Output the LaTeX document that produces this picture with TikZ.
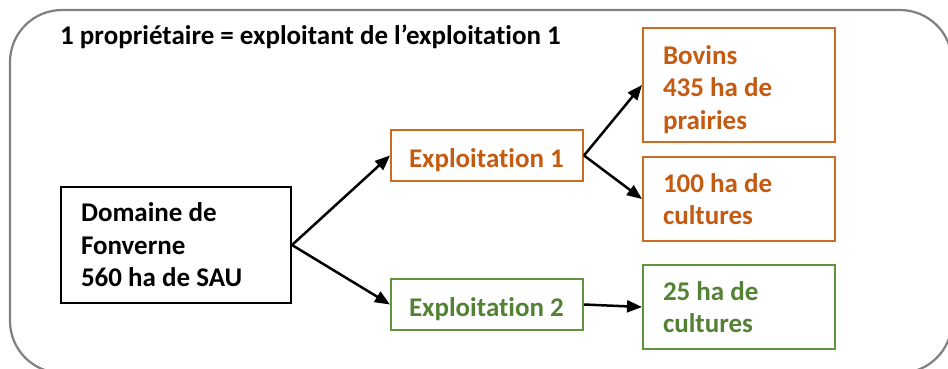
\documentclass[tikz,border=0pt]{standalone}
\usepackage{fontspec}
\setmainfont{Carlito}[Ligatures={NoCommon}]
\usetikzlibrary{arrows.meta}
\definecolor{orangeT}{HTML}{C55A11}
\definecolor{orangeB}{HTML}{CF6A24}
\definecolor{greenT}{HTML}{548235}
\definecolor{greenB}{HTML}{62933F}
\definecolor{frameC}{RGB}{128,128,128}
\newcommand{\lowerstrut}{\rule{0pt}{28pt}}
\begin{document}
\begin{tikzpicture}[x=1pt,y=-1pt,
  txt/.style={font=\fontsize{27}{32.5}\selectfont\bfseries},
  box/.style={txt, draw, line width=2pt, align=flush left, inner xsep=20pt, inner ysep=0pt},
  obox/.style={box, draw=orangeB, text=orangeT},
  gbox/.style={box, draw=greenB, text=greenT},
  arr/.style={line width=2.5pt, -{Triangle[length=15pt,width=12pt]}}]
\useasboundingbox (0,0) rectangle (948,369);
\clip (0,0) rectangle (948,369);
\fill[white] (0,0) rectangle (948,369);
\draw[frameC, line width=2.2pt, rounded corners=52pt] (10,10) rectangle (952,373);
\node[txt, anchor=base west, inner sep=0pt] (title) at (60,45) {1 propriétaire = exploitant de l’exploitation 1};
\node[box, draw=black, text width=190pt, minimum height=116pt] (dom) at (176,245) {Domaine de\\Fonverne\\560 ha de SAU};
\node[obox, inner xsep=18pt, text width=156pt, minimum height=51pt] (e1) at (487,155.5) {\lowerstrut\mbox{Exploitation 1}};
\node[gbox, inner xsep=18pt, text width=156pt, minimum height=51pt] (e2) at (487,304.5) {\lowerstrut\mbox{Exploitation 2}};
\node[obox, text width=152pt, minimum height=114pt] (bov) at (739,85) {\lowerstrut Bovins\\435 ha de\\prairies};
\node[obox, text width=152pt, minimum height=84pt] (c1) at (739,199) {100 ha de\\cultures};
\node[gbox, text width=152pt, minimum height=84pt] (c2) at (739,307) {25 ha de\\cultures};
\draw[arr] (dom.east) -- (e1.west);
\draw[arr] (dom.east) -- (e2.west);
\draw[arr] (e1.east) -- (bov.west);
\draw[arr] (e1.east) -- (c1.west);
\draw[arr] (e2.east) -- (c2.west);
\end{tikzpicture}
\end{document}
